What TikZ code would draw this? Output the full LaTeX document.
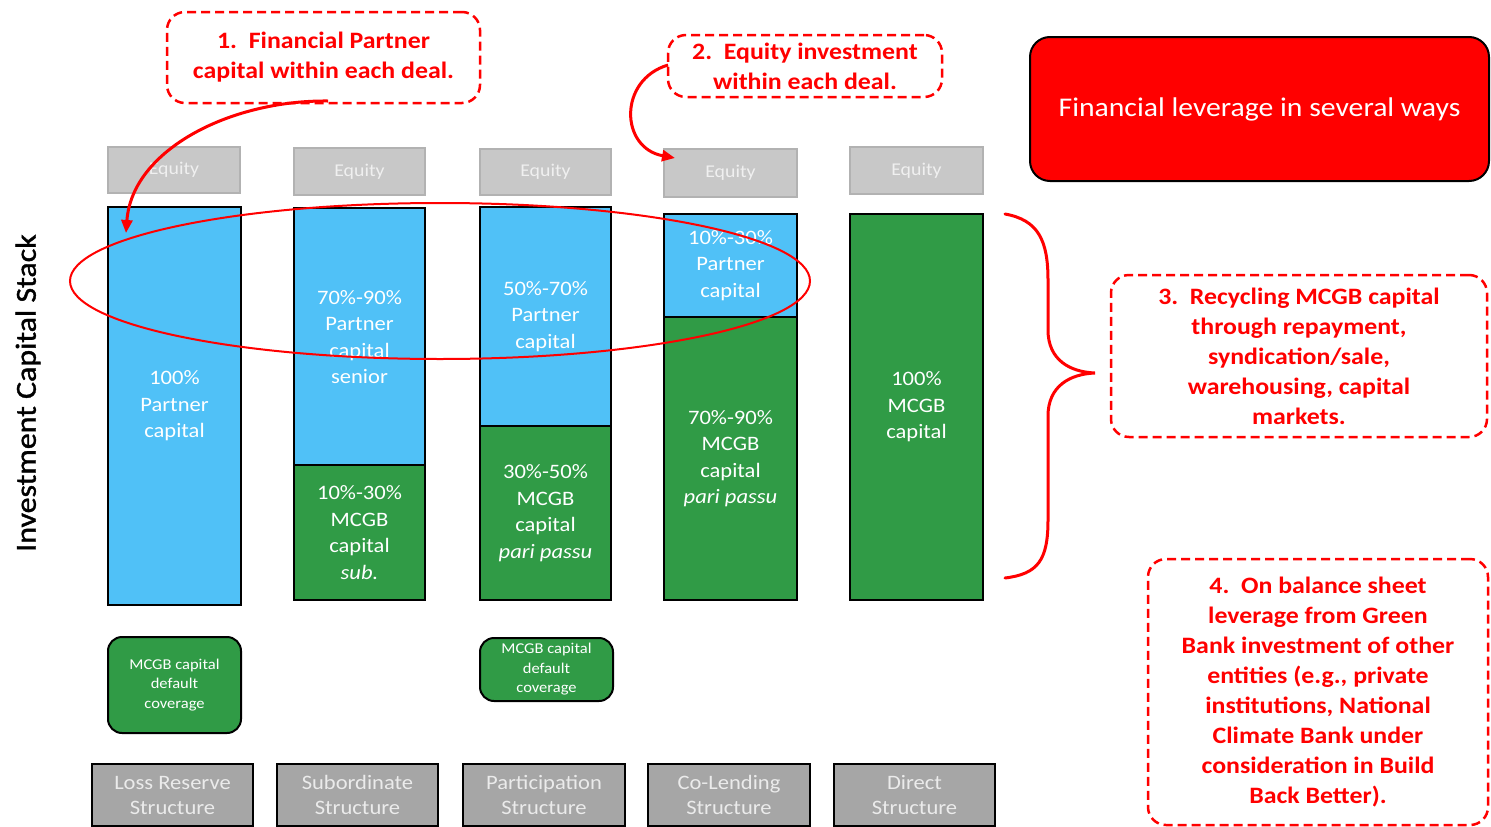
\documentclass[tikz,border=0pt]{standalone}
\usepackage{fontspec}
\setmainfont{Carlito}[FakeStretch=1.1]
\newfontfamily\lblfont{Carlito}[FakeStretch=1.1,FakeBold=1.3]
\usetikzlibrary{arrows.meta}
\definecolor{cblue}{RGB}{80,193,247}
\definecolor{cgreen}{RGB}{48,155,70}
\definecolor{eqfill}{RGB}{200,200,200}
\definecolor{eqdraw}{RGB}{178,178,178}
\definecolor{stfill}{RGB}{166,166,166}
\definecolor{cred}{RGB}{255,0,0}
\tikzset{
  eqbox/.style={draw=eqdraw, line width=1.5pt, fill=eqfill, text=white!94!black, inner sep=0pt, font=\fontsize{18}{20}\selectfont},
  bar/.style={draw=black, line width=2pt, inner sep=0pt, text=white, align=center, font=\fontsize{20.5}{26.5}\selectfont},
  bluebar/.style={bar, fill=cblue},
  greenbar/.style={bar, fill=cgreen},
  covbox/.style={draw=black, line width=2pt, fill=cgreen, rounded corners=14pt, text=white, align=center, inner sep=0pt, font=\fontsize{15}{19.5}\selectfont},
  stbox/.style={draw=black, line width=2.5pt, fill=stfill, text=white!92!black, align=center, inner sep=0pt, font=\fontsize{20.5}{25}\selectfont},
  callout/.style={draw=cred, line width=2.5pt, dash pattern=on 9pt off 5pt, rounded corners=18pt, text=cred, align=center, inner sep=0pt, font=\bfseries\fontsize{23.5}{30}\selectfont},
  redarrow/.style={draw=cred, line width=3pt, -{Triangle[length=13pt,width=11pt]}}
}
\begin{document}
\begin{tikzpicture}[x=1pt,y=-1pt]
\useasboundingbox (0,0) rectangle (1491,827);
% equity boxes
\node[eqbox, minimum width=132, minimum height=46] (e1) at (174,170) {Equity};
\node[eqbox, minimum width=131, minimum height=47] (e2) at (359.5,171.5) {Equity};
\node[eqbox, minimum width=131, minimum height=46] (e3) at (545.5,172) {Equity};
\node[eqbox, minimum width=133, minimum height=48] (e4) at (730.5,173) {Equity};
\node[eqbox, minimum width=133, minimum height=47] (e5) at (916.5,170.5) {Equity};
% bars
\node[bluebar, minimum width=133, minimum height=398] (b1) at (174.5,406) {100\%\\Partner\\capital};
\node[bluebar, minimum width=131, minimum height=258] (b2) at (359.5,337) {70\%-90\%\\Partner\\capital\\senior};
\node[greenbar, minimum width=131, minimum height=135] (g2) at (359.5,532.5) {10\%-30\%\\MCGB\\capital\\\textit{sub.}};
\node[bluebar, minimum width=131, minimum height=219] (b3) at (545.5,316.5) {50\%-70\%\\Partner\\capital};
\node[greenbar, minimum width=131, minimum height=174] (g3) at (545.5,513) {30\%-50\%\\MCGB\\capital\\\textit{pari passu}};
\node[bluebar, minimum width=133, minimum height=103] (b4) at (730.5,265.5) {10\%-30\%\\Partner\\capital};
\node[greenbar, minimum width=133, minimum height=283] (g4) at (730.5,458.5) {70\%-90\%\\MCGB\\capital\\\textit{pari passu}};
\node[greenbar, minimum width=133, minimum height=386] (g5) at (916.5,407) {100\%\\MCGB\\capital};
% coverage boxes
\node[covbox, minimum width=133, minimum height=96] (c1) at (174.5,685) {MCGB capital\\default\\coverage};
\node[covbox, minimum width=133, minimum height=63] (c3) at (546.5,669.5) {MCGB capital\\default\\coverage};
% structure boxes
\node[stbox, minimum width=161, minimum height=62] (s1) at (172.5,795) {Loss Reserve\\Structure};
\node[stbox, minimum width=161, minimum height=62] (s2) at (357.5,795) {Subordinate\\Structure};
\node[stbox, minimum width=162, minimum height=62] (s3) at (544,795) {Participation\\Structure};
\node[stbox, minimum width=162, minimum height=62] (s4) at (729,795) {Co-Lending\\Structure};
\node[stbox, minimum width=161, minimum height=62] (s5) at (914.5,795) {Direct\\Structure};
% axis label
\node[rotate=90, font=\lblfont\fontsize{29}{32}\selectfont, inner sep=0pt] (ylab) at (28,393) {Investment Capital Stack};
% ellipse
\draw[cred, line width=2pt] (440,281) ellipse [x radius=370, y radius=78];
% top right red box
\node[draw=black, line width=2pt, fill=cred, rounded corners=20pt, minimum width=459, minimum height=144, inner sep=0pt, text=white, font=\fontsize{27}{30}\selectfont] (lev) at (1259.5,109) {Financial leverage in several ways};
% callouts
\node[callout, minimum width=313, minimum height=91] (k1) at (323.5,57.5) {1.\ \ Financial Partner\\capital within each deal.};
\node[callout, minimum width=274, minimum height=62] (k2) at (805,66) {2.\ \ Equity investment\\within each deal.};
\node[callout, minimum width=376, minimum height=162] (k3) at (1299,356) {3.\ \ Recycling MCGB capital\\through repayment,\\syndication/sale,\\warehousing, capital\\markets.};
\node[callout, minimum width=340, minimum height=266] (k4) at (1318,692) {4.\ \ On balance sheet\\leverage from Green\\Bank investment of other\\entities (e.g., private\\institutions, National\\Climate Bank under\\consideration in Build\\Back Better).};
% arrows
\coordinate (a1s) at (328,101);
\coordinate (a1e) at (126,233);
\draw[redarrow] (a1s) .. controls (230,100) and (132,150) .. (a1e);
\coordinate (a2s) at (668,65);
\coordinate (a2e) at (675,158);
\draw[redarrow] (a2s) .. controls (618,80) and (620,148) .. (a2e);
% brace
\coordinate (brt) at (1005,214);
\coordinate (brb) at (1005,578);
\coordinate (brm) at (1095,373);
\draw[cred, line width=3pt, line cap=round] (brt) .. controls (1038,220) and (1048,240) .. (1048,280) -- (1048,330) .. controls (1048,360) and (1070,372) .. (brm) .. controls (1070,374) and (1048,386) .. (1048,416) -- (1048,520) .. controls (1048,560) and (1038,574) .. (brb);
\end{tikzpicture}
\end{document}
